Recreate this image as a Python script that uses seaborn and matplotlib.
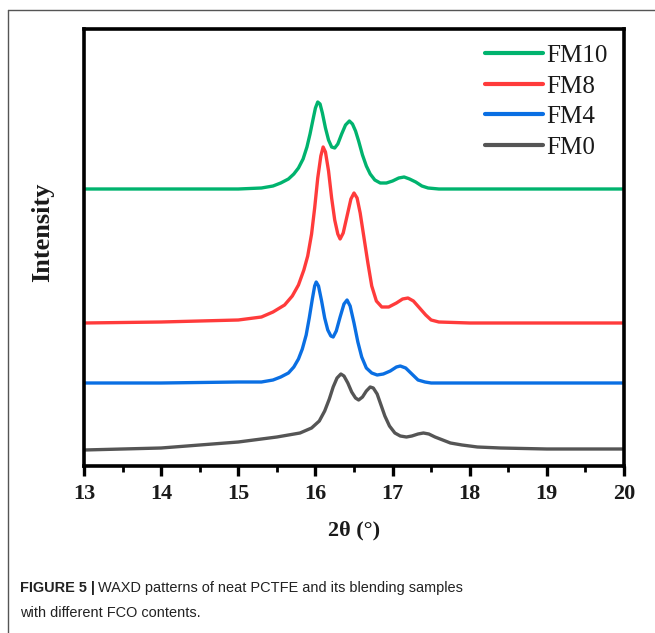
import numpy as np
import pandas as pd
import matplotlib
matplotlib.use("Agg")
import matplotlib.pyplot as plt
import seaborn as sns
from matplotlib.lines import Line2D
from matplotlib.ticker import MultipleLocator

# ---- data (2θ in degrees, intensity in arbitrary offset units) ----
fm0_x = [13.0, 13.5, 14.0, 14.5, 15.0, 15.5, 15.8, 15.95, 16.05, 16.12, 16.18, 16.23,
         16.28, 16.33, 16.37, 16.42, 16.47, 16.52, 16.56, 16.61, 16.66, 16.71, 16.75,
         16.8, 16.85, 16.9, 16.96, 17.03, 17.1, 17.18, 17.25, 17.33, 17.4, 17.47,
         17.55, 17.65, 17.75, 17.9, 18.1, 18.4, 19.0, 20.0]
fm0_y = [16, 17, 18, 21, 24, 29, 33, 38, 45, 55, 67, 79,
         88, 92, 90, 83, 74, 68, 66, 69, 75, 79, 78,
         72, 61, 50, 40, 33, 30, 29, 30, 32, 33, 32,
         29, 26, 23, 21, 19, 18, 17, 17]

fm4_x = [13.0, 14.0, 15.0, 15.3, 15.45, 15.55, 15.65, 15.72, 15.78, 15.83, 15.88, 15.92,
         15.96, 15.99, 16.01, 16.04, 16.08, 16.12, 16.16, 16.2, 16.23, 16.27, 16.32,
         16.37, 16.41, 16.45, 16.5, 16.55, 16.6, 16.66, 16.73, 16.8, 16.88, 16.97,
         17.05, 17.1, 17.17, 17.25, 17.33, 17.42, 17.5, 18.0, 19.0, 20.0]
fm4_y = [83, 83, 84, 84, 86, 89, 93, 99, 107, 117, 131, 148,
         167, 180, 184, 180, 165, 148, 136, 130, 129, 135, 149,
         162, 166, 160, 143, 124, 109, 98, 93, 91, 92, 95,
         99, 100, 98, 92, 86, 84, 83, 83, 83, 83]

fm8_x = [13.0, 14.0, 15.0, 15.3, 15.45, 15.6, 15.7, 15.78, 15.85, 15.9, 15.95, 15.99,
         16.03, 16.07, 16.1, 16.13, 16.17, 16.21, 16.25, 16.29, 16.32, 16.36, 16.41,
         16.46, 16.5, 16.54, 16.58, 16.63, 16.68, 16.73, 16.79, 16.86, 16.95, 17.05,
         17.13, 17.2, 17.27, 17.35, 17.43, 17.5, 17.6, 18.0, 19.0, 20.0]
fm8_y = [143, 144, 146, 149, 154, 161, 170, 181, 196, 210, 232, 258,
         288, 310, 319, 314, 295, 268, 246, 232, 227, 233, 250,
         267, 273, 268, 253, 228, 203, 180, 165, 159, 159, 163,
         167, 168, 165, 158, 151, 146, 144, 143, 143, 143]

fm10_x = [13.0, 14.0, 15.0, 15.3, 15.45, 15.55, 15.65, 15.72, 15.78, 15.84, 15.89, 15.93,
          15.97, 16.0, 16.03, 16.06, 16.09, 16.13, 16.17, 16.21, 16.25, 16.29, 16.34,
          16.39, 16.44, 16.48, 16.52, 16.56, 16.61, 16.66, 16.71, 16.77, 16.84, 16.92,
          17.0, 17.08, 17.15, 17.22, 17.3, 17.38, 17.46, 17.6, 18.0, 19.0, 20.0]
fm10_y = [277, 277, 277, 278, 280, 283, 287, 292, 298, 307, 319, 332,
          347, 358, 364, 362, 353, 338, 326, 319, 318, 322, 332,
          341, 345, 342, 335, 325, 311, 300, 292, 286, 283, 283,
          285, 288, 289, 287, 284, 280, 278, 277, 277, 277, 277]

labels = ["FM10", "FM8", "FM4", "FM0"]
colors = ["#00b36e", "#ff3b3b", "#0a6fe3", "#555555"]
xticks = [13, 14, 15, 16, 17, 18, 19, 20]

frames = []
for name, xs, ys in [("FM0", fm0_x, fm0_y), ("FM4", fm4_x, fm4_y),
                     ("FM8", fm8_x, fm8_y), ("FM10", fm10_x, fm10_y)]:
    frames.append(pd.DataFrame({"theta": xs, "I": ys, "sample": name}))
df = pd.concat(frames, ignore_index=True)

sns.set_theme(style="ticks")
plt.rcParams["font.family"] = ["Liberation Serif", "DejaVu Serif"]

fig = plt.figure(figsize=(6.55, 6.33), dpi=100)
ax = fig.add_axes([84/655, 1-466/633, (624-84)/655, (466-29)/633])

sns.lineplot(data=df, x="theta", y="I", hue="sample", hue_order=labels,
             palette=dict(zip(labels, colors)), linewidth=2.4, ax=ax,
             sort=False, estimator=None)

ax.set_xlim(13, 20)
ax.set_ylim(0, 437)
ax.set_xticks(xticks)
ax.set_xticklabels([str(t) for t in xticks], fontsize=16, fontweight="bold")
ax.xaxis.set_minor_locator(MultipleLocator(0.5))
ax.tick_params(axis="x", which="major", direction="out", length=7, width=2.4, pad=6,
               color="black", labelcolor="#1a1a1a")
ax.tick_params(axis="x", which="minor", direction="out", length=4, width=2.0, color="black")
ax.set_yticks([])
for sp in ax.spines.values():
    sp.set_visible(True)
    sp.set_linewidth(2.6)
    sp.set_color("black")

ax.set_xlabel("2θ (°)", fontsize=16, fontweight="bold", labelpad=12, color="#1a1a1a")
ax.set_ylabel("Intensity", fontsize=19, fontweight="bold", color="#1a1a1a")
ax.yaxis.set_label_coords(-0.056, 0.535)

leg = ax.legend(loc="upper right", frameon=False, fontsize=18, handlelength=2.3,
                handletextpad=0.15, labelspacing=0.32, borderaxespad=0.1,
                bbox_to_anchor=(0.993, 0.993))
for h in leg.legend_handles:
    h.set_linewidth(3)
for t in leg.get_texts():
    t.set_color("#1a1a1a")

# outer frame of the figure panel
fig.add_artist(Line2D([8/655, 1.0], [1-10/633, 1-10/633], color="#555555", lw=1.0,
                      transform=fig.transFigure))
fig.add_artist(Line2D([8/655, 8/655], [0.0, 1-10/633], color="#555555", lw=1.0,
                      transform=fig.transFigure))

# caption
cap_font = ["Liberation Sans", "DejaVu Sans"]
cap_size = 10.45
t1 = fig.text(20/655, 1-588/633, "FIGURE 5 |", fontsize=cap_size, fontweight="bold",
              family=cap_font, va="center", ha="left", color="#222222")
fig.canvas.draw()
bb = t1.get_window_extent()
x_after = (bb.x1 + 3) / fig.bbox.width
fig.text(x_after, 1-588/633, "WAXD patterns of neat PCTFE and its blending samples",
         fontsize=cap_size, family=cap_font, va="center", ha="left", color="#222222")
fig.text(20/655, 1-613/633, "with different FCO contents.", fontsize=cap_size,
         family=cap_font, va="center", ha="left", color="#222222")

fig.savefig("out.png", dpi=100)
